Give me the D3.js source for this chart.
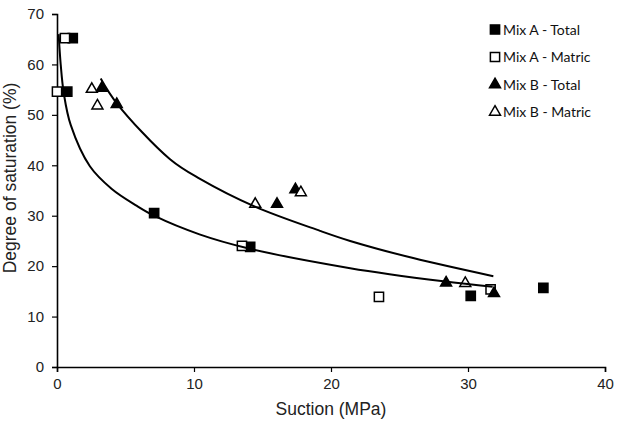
<!DOCTYPE html>
<html lang="en">
<head>
  <meta charset="utf-8" />
  <title>Degree of saturation vs suction</title>
  <script src="https://cdn.jsdelivr.net/npm/d3@7"></script>
  <style>
    body { margin: 0; background: #fff; }
  </style>
</head>
<body>
<script>
  // points: [suction MPa, degree of saturation %]
  var mixATotal  = [[1.15, 65.2], [0.75, 54.6], [7.09, 30.5], [14.1, 23.8], [30.2, 14.1], [35.5, 15.7]];
  var mixAMatric = [[0.58, 65.2], [0.0, 54.6], [13.5, 24.0], [23.5, 13.9], [31.65, 15.4]];
  var mixBTotal  = [[3.27, 55.3], [4.36, 52.1], [16.06, 32.3], [17.4, 35.2], [28.4, 16.7], [31.9, 14.6]];
  var mixBMatric = [[2.54, 55.1], [2.95, 51.8], [14.47, 32.3], [17.8, 34.6], [29.8, 16.6]];

  // trend lines
  var trendA = [[0.12, 66], [0.27, 60], [0.5, 54.2], [1.0, 48], [2.4, 39.8], [4.0, 35.3], [5.8, 32.0],
                [7.16, 29.9], [10.4, 26.3], [13.85, 23.6], [21.4, 19.6], [28.2, 17.0], [31.8, 15.9]];
  var trendB = [[3.19, 57.2], [4.36, 52.3], [8.25, 41.2], [10.44, 37.3], [14.45, 31.8], [19.2, 27.0],
                [21.4, 25.0], [26.0, 21.6], [31.85, 18.0]];

  var xTicks = [0, 10, 20, 30, 40];
  var yTicks = [0, 10, 20, 30, 40, 50, 60, 70];
  var legendLabels = ["Mix A - Total", "Mix A - Matric", "Mix B - Total", "Mix B - Matric"];

  var w = 622, h = 427;
  // plot area edges (window.top is taken, so prefixed names)
  var plotLeft = 57, plotRight = 605, plotTop = 14, plotBottom = 367;
  var axisFont = "'Liberation Sans', Arial, 'DejaVu Sans', sans-serif";

  var svg = d3.select("body")
            .append("svg")
            .attr("width", w)
            .attr("height", h);

  var x = d3.scaleLinear().domain([0, 40]).range([plotLeft, plotRight]);
  var y = d3.scaleLinear().domain([0, 70]).range([plotBottom, plotTop]);

  // axes
  var xAxis = svg.append("g")
      .attr("transform", "translate(0," + plotBottom + ")")
      .call(d3.axisBottom(x).tickValues(xTicks).tickSize(5).tickPadding(6));
  var yAxis = svg.append("g")
      .attr("transform", "translate(" + plotLeft + ",0)")
      .call(d3.axisLeft(y).tickValues(yTicks).tickSize(5).tickPadding(8));

  [xAxis, yAxis].forEach(function(g) {
    g.select(".domain").attr("stroke", "#000").attr("stroke-width", 1.6);
    g.selectAll(".tick line").attr("stroke", "#000").attr("stroke-width", 1.2);
    g.selectAll(".tick text")
      .attr("font-family", axisFont)
      .attr("font-size", "15px")
      .attr("fill", "#222");
  });

  // axis titles
  svg.append("text")
      .text("Suction (MPa)")
      .attr("x", (plotLeft + plotRight) / 2)
      .attr("y", 415)
      .attr("text-anchor", "middle")
      .attr("font-family", axisFont)
      .attr("font-size", "17.5px")
      .attr("fill", "#222");

  svg.append("text")
      .text("Degree of saturation (%)")
      .attr("transform", "translate(16,178) rotate(-90)")
      .attr("text-anchor", "middle")
      .attr("font-family", axisFont)
      .attr("font-size", "17.5px")
      .attr("fill", "#222");

  // markers
  var series = [
    {data: mixATotal,  shape: d3.symbolSquare,   size: 85, fill: "#000"},
    {data: mixAMatric, shape: d3.symbolSquare,   size: 85, fill: "#fff"},
    {data: mixBTotal,  shape: d3.symbolTriangle, size: 52, fill: "#000"},
    {data: mixBMatric, shape: d3.symbolTriangle, size: 52, fill: "#fff"}
  ];

  series.forEach(function(s) {
    svg.append("g").selectAll("path")
        .data(s.data)
        .enter()
        .append("path")
        .attr("d", d3.symbol().type(s.shape).size(s.size))
        .attr("transform", function(d) { return "translate(" + x(d[0]) + "," + y(d[1]) + ")"; })
        .attr("fill", s.fill)
        .attr("stroke", "#000")
        .attr("stroke-width", 1.5);
  });

  // trend lines
  var line = d3.line()
      .x(function(d) { return x(d[0]); })
      .y(function(d) { return y(d[1]); })
      .curve(d3.curveCatmullRom);

  [trendA, trendB].forEach(function(t) {
    svg.append("path")
        .attr("d", line(t))
        .attr("fill", "none")
        .attr("stroke", "#000")
        .attr("stroke-width", 2);
  });

  // legend
  var legend = svg.append("g").attr("transform", "translate(495,29.5)");
  var rows = legend.selectAll("g")
      .data(legendLabels)
      .enter()
      .append("g")
      .attr("transform", function(d, i) { return "translate(0," + (i * 27.5) + ")"; });

  rows.append("path")
      .attr("d", function(d, i) { return d3.symbol().type(series[i].shape).size(series[i].size)(); })
      .attr("fill", function(d, i) { return series[i].fill; })
      .attr("stroke", "#000")
      .attr("stroke-width", 1.5);

  rows.append("text")
      .text(function(d) { return d; })
      .attr("x", 8)
      .attr("y", 5)
      .attr("font-family", "Lato, 'Open Sans', sans-serif")
      .attr("font-size", "14px")
      .attr("fill", "#111");
</script>
</body>
</html>
